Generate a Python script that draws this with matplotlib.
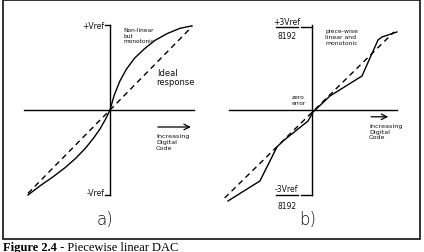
import matplotlib
matplotlib.use('Agg')
import matplotlib.pyplot as plt
from matplotlib.patches import Rectangle

W, H = 424, 253

# panel a: non-linear but monotonic (code, output in Vref units)
a_ideal_x = [-1.0, 1.0]
a_ideal_y = [-0.98, 0.98]
a_real_x = [-1.0, -0.85, -0.7, -0.55, -0.42, -0.3, -0.2, -0.12, -0.05, 0.0,
            0.05, 0.12, 0.2, 0.3, 0.42, 0.55, 0.7, 0.85, 1.0]
a_real_y = [-1.0, -0.89, -0.79, -0.68, -0.57, -0.45, -0.33, -0.22, -0.1, 0.0,
            0.17, 0.34, 0.48, 0.61, 0.72, 0.82, 0.9, 0.96, 0.99]

# panel b: piece-wise linear and monotonic
b_ideal_x = [-1.04, 0.976]
b_ideal_y = [-1.035, 0.918]
b_real_x = [-1.0, -0.62, -0.417, -0.345, -0.048, 0.012, 0.214, 0.595, 0.786, 0.833, 1.01]
b_real_y = [-1.07, -0.835, -0.435, -0.365, -0.13, -0.024, 0.165, 0.4, 0.824, 0.859, 0.918]

caption_bold = 'Figure 2.4'
caption_rest = ' - Piecewise linear DAC'

fig = plt.figure(figsize=(W / 100, H / 100), dpi=100)
fig.patch.set_facecolor('white')

# frame + caption
bg = fig.add_axes([0, 0, 1, 1])
bg.set_xlim(0, W)
bg.set_ylim(H, 0)
bg.axis('off')
bg.add_patch(Rectangle((3, 1), 417, 239, fill=False, lw=1.3, color='#222222'))


def panel(ox, oy, sx, sy):
    # full-figure axes whose data units put the origin at pixel (ox, oy)
    ax = fig.add_axes([0, 0, 1, 1])
    ax.set_xlim((0 - ox) / sx, (W - ox) / sx)
    ax.set_ylim((oy - H) / sy, oy / sy)
    ax.axis('off')
    ax.patch.set_alpha(0)
    return ax


txt = dict(family='DejaVu Sans', color='#111111')
lw = 1.0
dash = (0, (4, 3))

# ---- a) ----
ax = panel(110, 111, 82, 85)
ax.plot([-1.05, 1.02], [0, 0], color='k', lw=lw)
ax.plot([0, 0], [-1.0, 1.0], color='k', lw=lw)
ax.plot([-0.06, 0], [1.0, 1.0], color='k', lw=lw)
ax.plot([-0.06, 0], [-1.0, -1.0], color='k', lw=lw)
ax.plot(a_ideal_x, a_ideal_y, color='k', lw=lw, linestyle=dash)
ax.plot(a_real_x, a_real_y, color='k', lw=lw, solid_joinstyle='round')
ax.text(-0.07, 1.0, '+Vref', ha='right', va='center', fontsize=5.5, **txt)
ax.text(-0.07, -0.97, '-Vref', ha='right', va='center', fontsize=5.5, **txt)
ax.text(0.16, 0.98, 'Non-linear\nbut\nmonotonic', ha='left', va='top', fontsize=4.2,
        linespacing=1.2, **txt)
ax.text(0.57, 0.5, 'Ideal\nresponse', ha='left', va='top', fontsize=6,
        linespacing=1.1, **txt)
ax.annotate('', xy=(1.02, -0.2), xytext=(0.55, -0.2),
            arrowprops=dict(arrowstyle='->', lw=0.9, color='k'))
ax.text(0.56, -0.27, 'Increasing\nDigital\nCode', ha='left', va='top', fontsize=4.6,
        linespacing=1.2, **txt)
ax.text(-0.06, -1.28, 'a)', ha='center', va='center', fontsize=12,
        fontweight='light', **txt)

# ---- b) ----
bx = panel(312, 111, 84, 85)
bx.plot([-0.99, 1.01], [0, 0], color='k', lw=lw)
bx.plot([0, 0], [-1.0, 1.0], color='k', lw=lw)
bx.plot([-0.43, -0.17], [0.98, 0.98], color='k', lw=lw)
bx.plot([-0.13, 0], [0.98, 0.98], color='k', lw=lw)
bx.plot([-0.43, -0.17], [-1.0, -1.0], color='k', lw=lw)
bx.plot([-0.13, 0], [-1.0, -1.0], color='k', lw=lw)
bx.plot(b_ideal_x, b_ideal_y, color='k', lw=lw, linestyle=dash)
bx.plot(b_real_x, b_real_y, color='k', lw=lw)
bx.text(-0.3, 1.04, '+3Vref', ha='center', va='center', fontsize=5.5, **txt)
bx.text(-0.3, 0.88, '8192', ha='center', va='center', fontsize=5.5, **txt)
bx.text(-0.3, -0.92, '-3Vref', ha='center', va='center', fontsize=5.5, **txt)
bx.text(-0.3, -1.12, '8192', ha='center', va='center', fontsize=5.5, **txt)
bx.text(0.155, 0.96, 'piece-wise\nlinear and\nmonotonic', ha='left', va='top',
        fontsize=4.4, linespacing=1.2, **txt)
bx.text(-0.24, 0.19, 'zero\nerror', ha='left', va='top', fontsize=4.2,
        linespacing=1.2, **txt)
bx.annotate('', xy=(0.94, -0.08), xytext=(0.67, -0.08),
            arrowprops=dict(arrowstyle='->', lw=0.9, color='k'))
bx.text(0.68, -0.15, 'Increasing\nDigital\nCode', ha='left', va='top', fontsize=4.6,
        linespacing=1.2, **txt)
bx.text(-0.05, -1.28, 'b)', ha='center', va='center', fontsize=12,
        fontweight='light', **txt)

# caption
t1 = bg.text(3, 242, caption_bold, ha='left', va='top', fontsize=9,
             family='Liberation Serif', fontweight='bold', color='k')
r = fig.canvas.get_renderer()
ext = t1.get_window_extent(renderer=r)
bg.text(ext.x1, 242, caption_rest, ha='left', va='top', fontsize=9,
        family='Liberation Serif', color='k')

fig.savefig('out.png', dpi=100, facecolor='white')
